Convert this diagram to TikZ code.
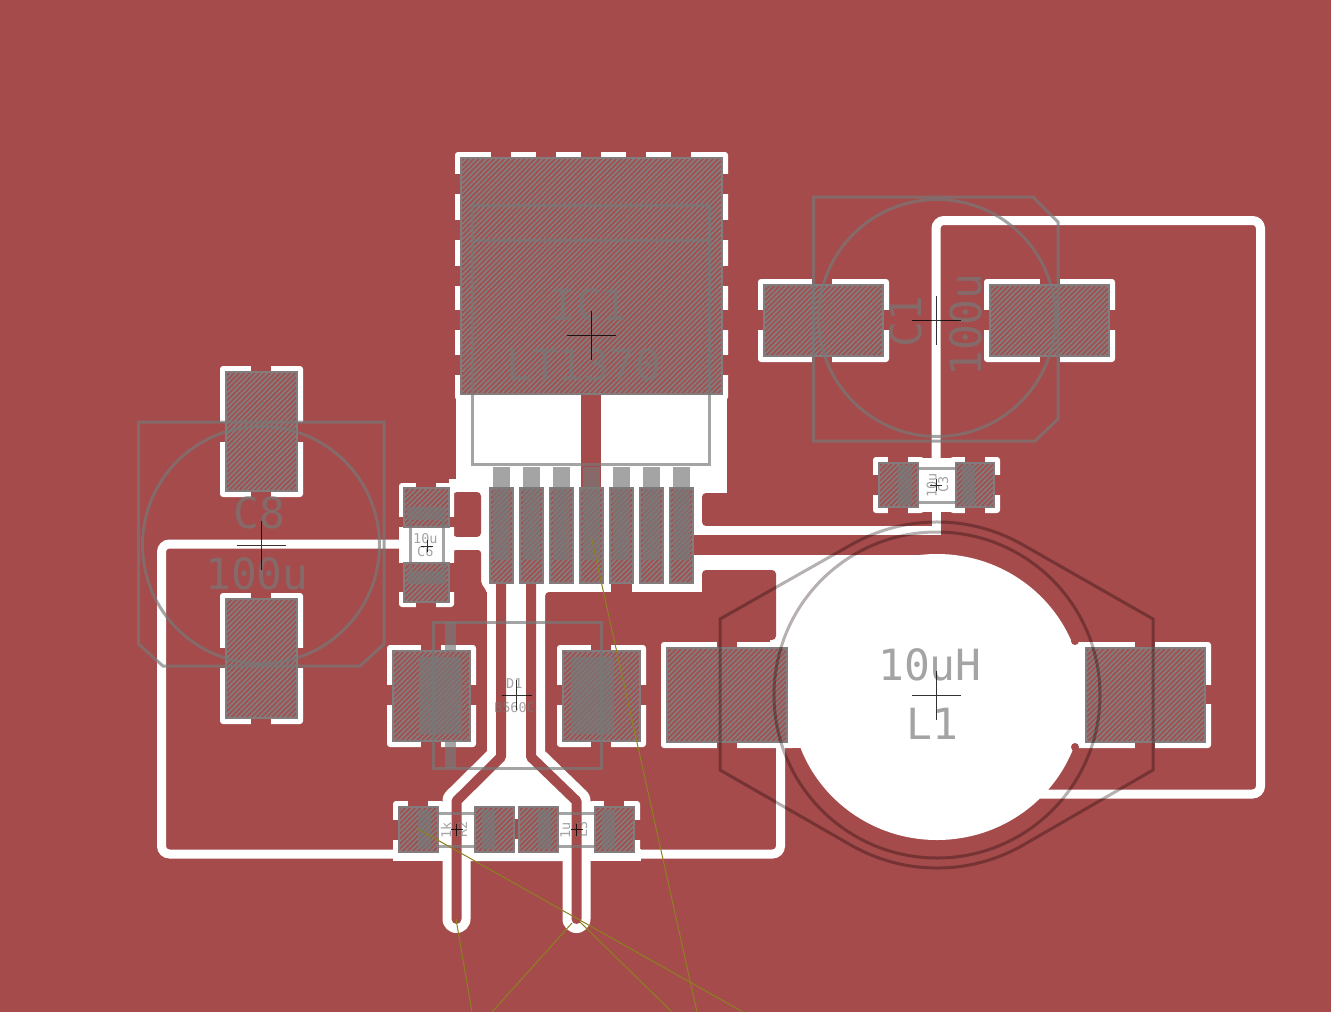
\documentclass[tikz,border=0pt]{standalone}
\usepackage{fontspec}
\usetikzlibrary{patterns.meta}
\newfontfamily\silkfont{DejaVu Sans Mono}
\definecolor{pourred}{RGB}{165,75,75}
\definecolor{silkgray}{RGB}{120,120,120}
\definecolor{padgray}{RGB}{132,124,124}
\definecolor{glowgray}{RGB}{182,176,176}
\definecolor{wireolive}{RGB}{140,128,32}
\tikzset{
	pour/.style={fill=pourred},
	clear/.style={fill=white},
	clearline/.style={draw=white, line width=9pt, rounded corners=8pt},
	slotclear/.style={draw=white, line width=28pt, line cap=round, line join=round},
	slottrace/.style={draw=pourred, line width=10pt, line join=round},
	padfine/.style={draw=padgray, line width=1.4pt, preaction={fill=pourred}, pattern={Lines[angle=45,distance=3.6pt,line width=1.9pt]}, pattern color=padgray},
	silk/.style={draw=silkgray, draw opacity=.67, line width=3pt},
	silkbar/.style={fill=silkgray, fill opacity=.67},
	glow/.style={draw=glowgray, line width=3pt},
	airwire/.style={draw=wireolive, line width=1pt},
	crossmark/.style={draw=black, draw opacity=.8, line width=1pt},
	silktext/.style={text=silkgray, text opacity=.67, inner sep=0pt, anchor=base west},
	bigtext/.style={silktext, font=\silkfont\fontsize{43}{43}\selectfont},
	tinytext/.style={silktext, font=\silkfont\fontsize{13.5}{14}\selectfont}
}
% white clearance round a pad, with the four thermal spokes at (#5,#6)
\def\padrelief(#1,#2)(#3,#4)(#5,#6){
	\fill[clear, rounded corners=3pt] (#1-6,#2-6) rectangle (#3+6,#4+6);
	\fill[pour] (#5-10,#2-7) rectangle (#5+10,#2);
	\fill[pour] (#5-10,#4) rectangle (#5+10,#4+7);
	\fill[pour] (#1-7,#6-10) rectangle (#1,#6+10);
	\fill[pour] (#3,#6-10) rectangle (#3+7,#6+10);
}
\def\origincross(#1,#2)(#3){\draw[crossmark] (#1-#3,#2) -- (#1+#3,#2) (#1,#2-#3) -- (#1,#2+#3);}

\begin{document}
\begin{tikzpicture}[x=1pt,y=-1pt]
	\useasboundingbox (0,0) rectangle (1331,1012);
	\fill[pour] (0,0) rectangle (1331,1012);

	%%%%% WHITE AREAS %%%%%
	\fill[clear, rounded corners=3pt] (455,152) rectangle (728,400);
	\fill[clear] (456,394) rectangle (727,493);
	\fill[clear] (449,479) rectangle (708,592);
	\fill[clear] (536,585) rectangle (560,597);
	\fill[clear] (693,555) rectangle (780,575);
	\fill[clear] (770,555) rectangle (937,660);
	\fill[clear] (770,660) rectangle (803,748);
	\fill[clear] (937,697) ellipse (146 and 143);

	% red blocks and lobes with soft corners
	\fill[pour, rounded corners=4pt] (702,493) rectangle (860,526);
	\fill[pour, rounded corners=4pt] (702,600) -- (702,570) -- (776,570) -- (776,640) -- (700,640) -- cycle;
	\fill[pour, rounded corners=4pt] (545,610) -- (545,592) -- (702,592) -- (702,610) -- cycle;
	\fill[pour, rounded corners=4pt] (453,492) rectangle (481,537);
	\fill[pour, rounded corners=3pt] (453,600) -- (453,550) -- (481,550) -- (481,583) -- (487,592) -- (487,600) -- cycle;
	\fill[pour] (581,394) rectangle (601,488);
	\fill[pour] (693,535) rectangle (712,555);
	\fill[pour] (611,583) rectangle (632,592);

	%%%%% TRACES %%%%%
	\draw[clearline] (402,544) -- (161.5,544) -- (161.5,854) -- (400,854);
	\draw[clearline] (600,854) -- (780.5,854) -- (780.5,745);
	\draw[clearline] (1040,794) -- (1260.5,794) -- (1260.5,220.5) -- (936,220.5) -- (936,460);
	\draw[draw=white, line width=9pt] (700,530.5) -- (936,530.5) -- (936,510);
	\fill[clear] (449,537) rectangle (485,550);

	% thermal pads
	\fill[clear, rounded corners=3pt] (1070,642) rectangle (1211,748);
	\fill[pour] (1135,641) rectangle (1155,648);
	\fill[pour] (1135,742) rectangle (1155,749);
	\fill[pour] (1205,685) rectangle (1212,704);
	\fill[pour] (1075,641) circle (4);
	\fill[pour] (1075,747) circle (4);
	\fill[clear, rounded corners=3pt] (661,642) rectangle (800,748);
	\fill[pour] (717,641) rectangle (737,648);
	\fill[pour] (717,743) rectangle (737,749);
	\fill[pour] (795,755) circle (7);
	\padrelief(226,372)(297,491)(261,431.5)
	\padrelief(226,599)(297,718)(261,658)
	\padrelief(764,285)(883,356)(822,320)
	\padrelief(990,285)(1109,356)(1050,320)
	\padrelief(393,651)(470,741)(431,695)
	\padrelief(563,651)(640,741)(601,695)
	\padrelief(879,463)(918,507)(898,485)
	\padrelief(956,463)(994,507)(975,485)
	\fill[clear] (918,458) rectangle (956,512);
	\padrelief(399,807)(438,852)(418,829.5)
	\padrelief(595,807)(634,852)(614,829.5)
	\foreach \sx in {501,546,591,636,681}
		\fill[pour] (\sx-10,150) rectangle (\sx+10,158);
	\foreach \sy in {184,230,275.5,320,365}{
		\fill[pour] (453,\sy-10) rectangle (461,\sy+10);
		\fill[pour] (722,\sy-10) rectangle (730,\sy+10);
	}

	% C6 clearance
	\fill[clear, rounded corners=3pt] (399,483) rectangle (454,607);
	\fill[pour] (416,482) rectangle (436,488);
	\fill[pour] (416,602) rectangle (436,608);
	\foreach \sx in {398,449}{
		\fill[pour] (\sx,517) rectangle (\sx+6,527);
		\fill[pour] (\sx,563) rectangle (\sx+6,592);
	}

	% the two slots at the bottom
	\fill[clear] (393,849) rectangle (641,861);
	\fill[clear] (438,807) rectangle (595,852);
	\draw[slotclear] (501,590) -- (501,757) -- (456.5,801) -- (456.5,919);
	\draw[slotclear] (531,590) -- (531,757) -- (576.5,801) -- (576.5,919);
	\fill[clear] (501,583) -- (531,583) -- (531,757) -- (571,802) -- (571,861) -- (462,861) -- (462,802) -- (501,757) -- cycle;
	\draw[slottrace, line cap=round] (501,575) -- (501,757) -- (456.5,801) -- (456.5,919);
	\draw[slottrace, line cap=round] (531,575) -- (531,757) -- (576.5,801) -- (576.5,919);
	\fill[pour] (514,819) rectangle (519,839);

	%%%%% PADS %%%%%
	\draw[padfine] (461,158) rectangle (722,394);
	\draw[padfine] (226,372) rectangle (297,491);
	\draw[padfine] (226,599) rectangle (297,718);
	\draw[padfine] (764,285) rectangle (883,356);
	\draw[padfine] (990,285) rectangle (1109,356);
	\draw[padfine] (667,648) rectangle (787,742);
	\draw[padfine] (1086,648) rectangle (1205,742);
	\draw[padfine] (393,651) rectangle (470,741);
	\draw[padfine] (563,651) rectangle (640,741);
	\draw[padfine] (879,463) rectangle (918,507);
	\draw[padfine] (956,463) rectangle (994,507);
	\draw[padfine] (404,488) rectangle (449,527);
	\draw[padfine] (404,563) rectangle (449,602);
	\foreach \sx in {399,475,519,595}
		\draw[padfine] (\sx,807) rectangle (\sx+39,852);
	\foreach \sx in {490,520,...,670}{
		\draw[padfine] (\sx,488) rectangle (\sx+23,583);
		\fill[silkbar] (\sx+3,467) rectangle (\sx+20,560);
	}

	%%%%% L1 OUTLINE %%%%%
	\begin{scope}[blend mode=multiply]
		\draw[glow] (937,695) circle (163);
		\draw[glow] (720,619) -- (851.8,544.4) arc[start angle=-119.5, end angle=-60.5, radius=173] -- (1153,619) -- (1153,770) -- (1022.2,845.6) arc[start angle=60.5, end angle=119.5, radius=173] -- (720,770) -- cycle;
	\end{scope}

	%%%%% SILK %%%%%
	\draw[silk] (472.5,205) rectangle (709,464);
	\draw[silk] (472.5,240) -- (709,240);
	\draw[silk] (138.5,422) -- (384,422) -- (384,644) -- (360,666) -- (163,666) -- (138.5,644) -- cycle;
	\draw[silk] (261,545) circle (118.5);
	\draw[silk] (813.5,197) -- (1033,197) -- (1058,222) -- (1058,419) -- (1035,441) -- (813.5,441) -- cycle;
	\draw[silk] (937,318) circle (118.5);
	\draw[silk] (433,622) rectangle (601.5,768);
	\fill[silkbar] (445,622) rectangle (456,651);
	\fill[silkbar] (445,741) rectangle (456,768);
	\fill[silkbar] (419,657) rectangle (462,734);
	\fill[silkbar] (571,657) rectangle (614,734);
	% C6
	\fill[silkbar] (407,507) rectangle (446,520);
	\fill[silkbar] (407,571) rectangle (446,584);
	\draw[silk] (410,520) -- (410,571) (443,520) -- (443,571);
	% C3
	\fill[silkbar] (898,465) rectangle (912,505);
	\fill[silkbar] (962,465) rectangle (975,505);
	\draw[silk] (918,468) -- (956,468) (918,502) -- (956,502);
	% R2 and L3
	\foreach \sx in {418,482,538,602}
		\fill[silkbar] (\sx,810) rectangle (\sx+13,849);
	\draw[silk] (438,813.5) -- (475,813.5) (438,846.5) -- (475,846.5);
	\draw[silk] (558,813.5) -- (595,813.5) (558,846.5) -- (595,846.5);

	%%%%% TEXT %%%%%
	\node[bigtext] (icname) at (550,320) {IC1};
	\node[bigtext] (icvalue) at (506,380) {LT1370};
	\node[bigtext] (ceightname) at (233,528) {C8};
	\node[bigtext] (ceightvalue) at (205,589) {100u};
	\node[bigtext, rotate=90] (conename) at (921.5,348) {C1};
	\node[bigtext, rotate=90] (conevalue) at (981.5,377) {100u};
	\node[bigtext] (lonevalue) at (878,680) {10uH};
	\node[bigtext] (lonename) at (906,739) {L1};
	\node[tinytext] (dname) at (506,688) {D1};
	\node[tinytext] (dvalue) at (494,712) {B560C};
	\node[tinytext] (csixvalue) at (413,543) {10u};
	\node[tinytext] (csixname) at (417,556) {C6};
	\node[tinytext, rotate=90] (cthreevalue) at (936.5,498) {10u};
	\node[tinytext, rotate=90] (cthreename) at (948,493) {C3};
	\node[tinytext, rotate=90] (rtwovalue) at (451,839) {1k};
	\node[tinytext, rotate=90] (rtwoname) at (467,838) {R2};
	\node[tinytext, rotate=90] (lthreevalue) at (570,839) {1u};
	\node[tinytext, rotate=90] (lthreename) at (587,838) {L3};

	%%%%% CROSSES %%%%%
	\origincross(591,335)(24.5)
	\origincross(261,545)(24.5)
	\origincross(936,320)(24.5)
	\origincross(936.5,695)(24.5)
	\origincross(516.5,695)(15)
	\origincross(427,546)(6)
	\origincross(936,485)(6)
	\origincross(456.5,829.5)(6)
	\origincross(576.5,829.5)(6)

	%%%%% AIRWIRES %%%%%
	\draw[airwire] (591,536) -- (697,1012);
	\draw[airwire] (418,829) -- (743,1012);
	\draw[airwire] (456,919) -- (472,1012);
	\draw[airwire] (572,923) -- (492,1012);
	\draw[airwire] (580,922) -- (672,1012);
\end{tikzpicture}
\end{document}
